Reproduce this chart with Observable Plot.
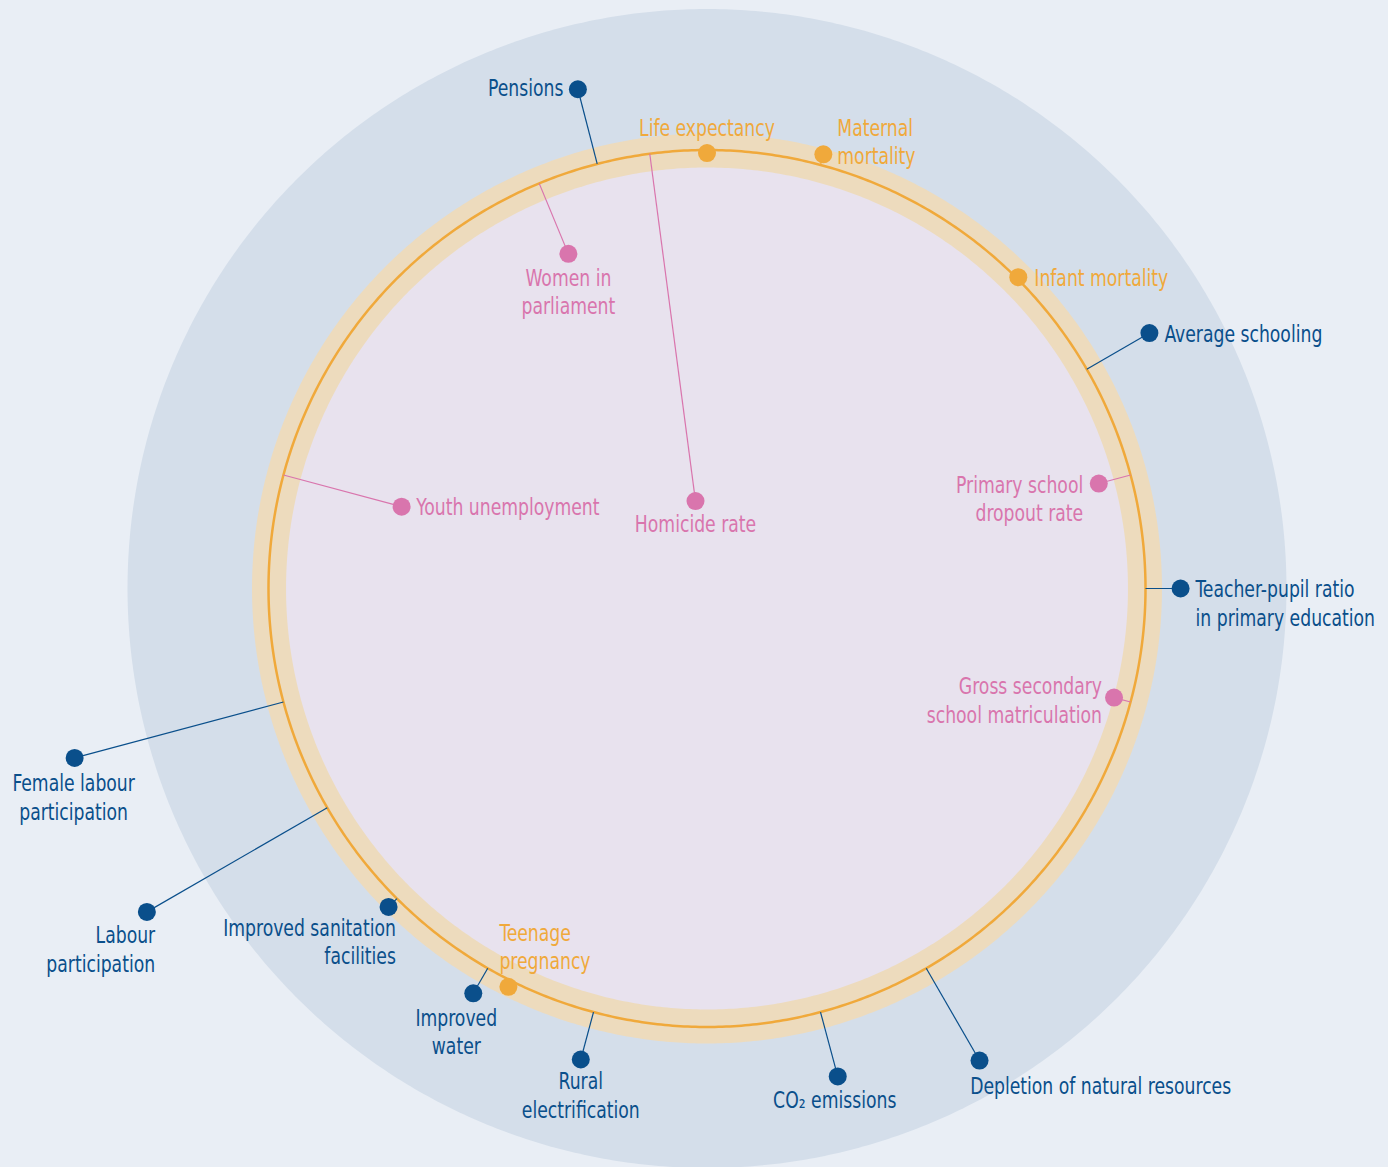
<!DOCTYPE html>
<html>
<head>
<meta charset="utf-8">
<script src="https://cdn.jsdelivr.net/npm/d3@7"></script>
<script src="https://cdn.jsdelivr.net/npm/@observablehq/plot@0.6"></script>
<style>
  html, body { margin: 0; padding: 0; background: #e9eef5; }
  #chart svg { display: block; }
</style>
</head>
<body>
<div id="chart"></div>
<script>
// ---- data ----
const indicators = [
  "Pensions",
  "Life expectancy",
  "Maternal\nmortality",
  "Infant mortality",
  "Average schooling",
  "Primary school\ndropout rate",
  "Teacher-pupil ratio\nin primary education",
  "Gross secondary\nschool matriculation",
  "Depletion of natural resources",
  "CO₂ emissions",
  "Rural\nelectrification",
  "Teenage\npregnancy",
  "Improved\nwater",
  "Improved sanitation\nfacilities",
  "Labour\nparticipation",
  "Female labour\nparticipation",
  "Youth unemployment",
  "Women in\nparliament",
  "Homicide rate"
];
const groups = [
  "Economy", "Health", "Health", "Health", "Economy", "Society", "Economy", "Society",
  "Economy", "Economy", "Economy", "Health", "Economy", "Economy", "Economy", "Economy",
  "Society", "Society", "Society"
];
// angle clockwise from north, degrees
const angles = [345.5, 0, 15, 45, 60, 75, 90, 105, 150, 165, 195, 206.5, 210, 225, 240, 255, 285, 337.5, 352.5];
// value relative to reference circle (= 1)
const values = [1.176, 0.993, 1.025, 1.004, 1.165, 0.925, 1.080, 0.961, 1.243, 1.152, 1.112, 1.015, 1.066, 1.027, 1.475, 1.493, 0.721, 0.826, 0.201];

const groupNames = ["Economy", "Health", "Society"];
const groupColors = ["#0a4f8b", "#f0a93b", "#d975ad"];

// ---- layout / style (not data) ----
const K = 10; // degrees per unit of value
const FONT = '"DejaVu Sans Condensed", "DejaVu Sans", sans-serif';
const FS = 23.5;
const LH = 1.213;
const SX = 0.815; // horizontal condensing of labels
// [textAnchor, dx, dy of last baseline]
const labelLayout = [
  ["end", -14.5, 7],
  ["middle", 0, -16.7],
  ["start", 14, 9.7],
  ["start", 16, 9],
  ["start", 15, 9],
  ["end", -15.6, 37.7],
  ["start", 15, 37.4],
  ["end", -12, 25.4],
  ["start", -9.4, 33.3],
  ["middle", -3, 32],
  ["middle", 0, 58.3],
  ["start", -9, -17.4],
  ["middle", -17, 60.7],
  ["end", 7.3, 57.3],
  ["end", 8.3, 60],
  ["middle", -1, 61.6],
  ["start", 14.7, 8.3],
  ["middle", 0, 60.3],
  ["middle", 0, 31]
];

const rows = indicators.map((label, i) => ({
  label,
  group: groups[i],
  angle: angles[i],
  value: values[i],
  lon: 180 - angles[i],
  lat: 90 - values[i] * K
}));

const circle = (v) => d3.geoCircle().center([0, 90]).radius(v * K).precision(0.5)();

const labelMarks = rows.map((d, i) => {
  const [anchor, dx, dy] = labelLayout[i];
  return Plot.text([d], {
    x: "lon", y: "lat", text: "label", fill: "group",
    textAnchor: anchor, lineAnchor: "bottom", dx, dy,
    fontSize: FS, lineHeight: LH, fontFamily: FONT
  });
});

const chart = Plot.plot({
  width: 1388,
  height: 1167,
  marginLeft: 131.5,
  marginRight: 106.5,
  marginTop: 13,
  marginBottom: 4,
  projection: {
    type: "azimuthal-equidistant",
    rotate: [0, -90],
    domain: circle(575 / 438.5),
    clip: false
  },
  color: { domain: groupNames, range: groupColors },
  style: { background: "#e9eef5", fontFamily: FONT },
  marks: [
    Plot.geo(circle(1.3215), { fill: "#d4deea" }),
    Plot.geo(circle(1.0376), { fill: "#eddbbd" }),
    Plot.geo(circle(0.960), { fill: "#e8e2ee" }),
    Plot.geo(circle(1), { fill: "none", stroke: "#f0a93b", strokeWidth: 2.5 }),
    Plot.link(rows, { x1: "lon", y1: () => 90 - K, x2: "lon", y2: "lat", stroke: "group", strokeWidth: 1.2 }),
    Plot.dot(rows, { x: "lon", y: "lat", r: 9, fill: "group" }),
    ...labelMarks
  ]
});

// condense label glyphs horizontally around their anchor point
chart.querySelectorAll('g[aria-label="text"] text').forEach((t) => {
  const tr = t.getAttribute("transform") || "";
  t.setAttribute("transform", `${tr} scale(${SX},1)`);
});

document.getElementById("chart").appendChild(chart);
</script>
</body>
</html>
